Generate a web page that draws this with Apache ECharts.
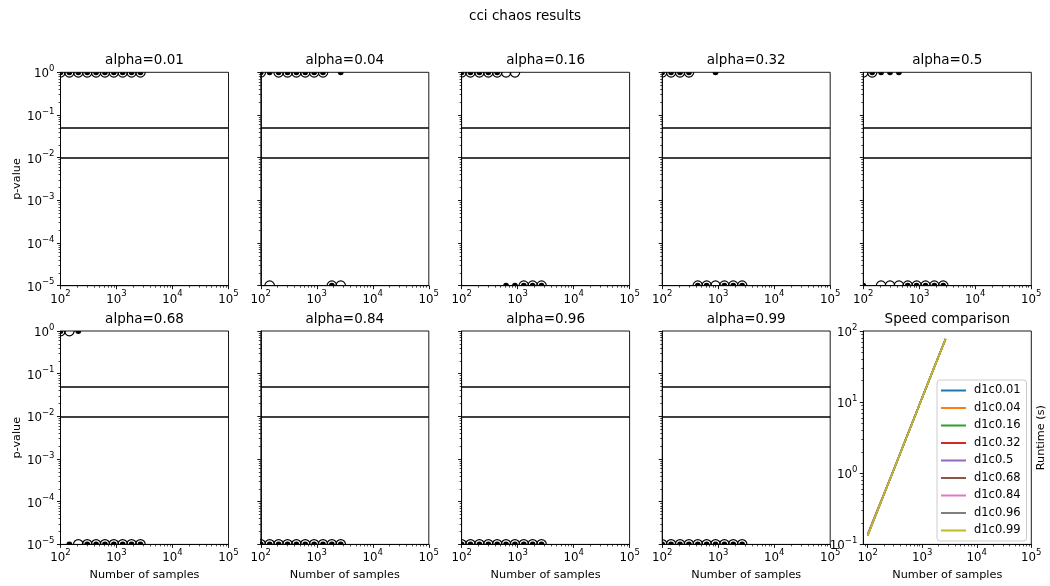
<!DOCTYPE html>
<html><head><meta charset="utf-8">
<script src="https://cdn.jsdelivr.net/npm/echarts@6/dist/echarts.min.js"></script>
<style>html,body{margin:0;padding:0;background:#fff}#c{width:1050px;height:586px}</style>
</head><body><div id="c"></div>
<script>
// ---------------- data ----------------
const samples = [100, 144, 208, 300, 432, 622, 896, 1290, 1858, 2676];
const alphaLabels = ['0.01', '0.04', '0.16', '0.32', '0.5', '0.68', '0.84', '0.96', '0.99'];
const thresholds = [0.05, 0.01];
const xMajorTicks = [100, 1000, 10000, 100000];
const pMajorTicks = [1e-5, 1e-4, 1e-3, 1e-2, 1e-1, 1];
const rtMajorTicks = [0.1, 1, 10, 100];

// open circles (p-value of method A), small dots (method B)
const open_001 = [1, 1, 1, 1, 1, 1, 1, 1, 1, 1];
const dot_001  = [1, 1, 1, 1, 1, 1, 1, 1, 1, 1];
const open_004 = [1, 1e-5, 1, 1, 1, 1, 1, 1, 1e-5, 1e-5];
const dot_004  = [1, 1, 1, 1, 1, 1, 1, 1, 1e-5, 1];
const open_016 = [1, 1, 1, 1, 1, 1, 1, 1e-5, 1e-5, 1e-5];
const dot_016  = [1, 1, 1, 1, 1, 1e-5, 1e-5, 1e-5, 1e-5, 1e-5];
const open_032 = [1, 1, 1, 1, 1e-5, 1e-5, 1e-5, 1e-5, 1e-5, 1e-5];
const dot_032  = [1, 1, 1, 1, 1e-5, 1e-5, 1, 1e-5, 1e-5, 1e-5];
const open_050 = [1, 1, 1e-5, 1e-5, 1e-5, 1e-5, 1e-5, 1e-5, 1e-5, 1e-5];
const dot_050  = [1e-5, 1, 1, 1, 1, 1e-5, 1e-5, 1e-5, 1e-5, 1e-5];
const open_068 = [1, 1, 1e-5, 1e-5, 1e-5, 1e-5, 1e-5, 1e-5, 1e-5, 1e-5];
const dot_068  = [1, 1e-5, 1, 1e-5, 1e-5, 1e-5, 1e-5, 1e-5, 1e-5, 1e-5];
const open_084 = [1e-5, 1e-5, 1e-5, 1e-5, 1e-5, 1e-5, 1e-5, 1e-5, 1e-5, 1e-5];
const dot_084  = [1e-5, 1e-5, 1e-5, 1e-5, 1e-5, 1e-5, 1e-5, 1e-5, 1e-5, 1e-5];
const open_096 = [1e-5, 1e-5, 1e-5, 1e-5, 1e-5, 1e-5, 1e-5, 1e-5, 1e-5, 1e-5];
const dot_096  = [1e-5, 1e-5, 1e-5, 1e-5, 1e-5, 1e-5, 1e-5, 1e-5, 1e-5, 1e-5];
const open_099 = [1e-5, 1e-5, 1e-5, 1e-5, 1e-5, 1e-5, 1e-5, 1e-5, 1e-5, 1e-5];
const dot_099  = [1e-5, 1e-5, 1e-5, 1e-5, 1e-5, 1e-5, 1e-5, 1e-5, 1e-5, 1e-5];

// runtime (s)
const rt_001 = [0.135, 0.27, 0.55, 1.12, 2.28, 4.6, 9.4, 19.0, 38.5, 77];
const rt_004 = [0.133, 0.275, 0.56, 1.13, 2.26, 4.62, 9.35, 19.1, 38.2, 76.5];
const rt_016 = [0.134, 0.272, 0.555, 1.11, 2.27, 4.58, 9.38, 18.9, 38.4, 77.2];
const rt_032 = [0.14, 0.28, 0.56, 1.12, 2.29, 4.61, 9.42, 19.05, 38.6, 77.5];
const rt_050 = [0.136, 0.27, 0.552, 1.125, 2.27, 4.6, 9.36, 18.95, 38.3, 76.8];
const rt_068 = [0.138, 0.278, 0.558, 1.118, 2.28, 4.63, 9.4, 19.1, 38.5, 77.1];
const rt_084 = [0.139, 0.282, 0.56, 1.13, 2.29, 4.62, 9.41, 19.0, 38.6, 77.3];
const rt_096 = [0.134, 0.271, 0.553, 1.12, 2.27, 4.6, 9.37, 18.98, 38.4, 77.0];
const rt_099 = [0.133, 0.27, 0.552, 1.118, 2.27, 4.59, 9.36, 18.97, 38.3, 76.9];

const openSets = [open_001, open_004, open_016, open_032, open_050, open_068, open_084, open_096, open_099];
const dotSets = [dot_001, dot_004, dot_016, dot_032, dot_050, dot_068, dot_084, dot_096, dot_099];
const rtSets = [rt_001, rt_004, rt_016, rt_032, rt_050, rt_068, rt_084, rt_096, rt_099];
const colors = ['#1f77b4', '#ff7f0e', '#2ca02c', '#d62728', '#9467bd', '#8c564b', '#e377c2', '#7f7f7f', '#bcbd22'];

// ---------------- layout ----------------
const FONT = 'DejaVu Sans';
const lefts = [60.5, 260.8, 461.6, 662.2, 863.3];
const tops = [72.3, 331];
const W = 168, H = 213.4;

function minorVals(lo, hi) {
  const out = [];
  for (let e = lo; e < hi; e++) for (let k = 2; k <= 9; k++) out.push(k * Math.pow(10, e));
  return out;
}
function fmt(v) {
  const e = Math.round(Math.log10(v));
  return '{b|10}{s|' + (e < 0 ? '\u2212' + (-e) : e) + '}';
}
const rich = {
  b: { fontSize: 11.8, fontFamily: FONT, color: '#000', verticalAlign: 'bottom', lineHeight: 16 },
  s: { fontSize: 8.5, fontFamily: FONT, color: '#000', verticalAlign: 'top', lineHeight: 9 }
};

const grids = [], xAxes = [], yAxes = [], series = [], graphics = [];

for (let g = 0; g < 10; g++) {
  const row = g < 5 ? 0 : 1, col = g % 5;
  grids.push({ left: lefts[col], top: tops[row], width: W, height: H, show: true,
    borderColor: '#000', borderWidth: 0.9, backgroundColor: 'transparent', outerBoundsMode: 'none' });
}
const isSpeed = g => g === 9;
// main axes
for (let g = 0; g < 10; g++) {
  const row = g < 5 ? 0 : 1, col = g % 5;
  const xmin = isSpeed(g) ? 83 : 100;
  xAxes.push({
    type: 'log', logBase: 10, gridIndex: g, min: xmin, max: 100000, position: 'bottom',
    axisLine: { show: true, lineStyle: { color: '#000', width: 0.9 } },
    axisTick: { show: true, length: 3.5, lineStyle: { color: '#000', width: 0.9 }, customValues: xMajorTicks },
    axisLabel: { show: true, margin: 4, formatter: fmt, rich: rich, customValues: xMajorTicks },
    splitLine: { show: false },
    name: row === 1 ? 'Number of samples' : '', nameLocation: 'middle', nameGap: 25,
    nameTextStyle: { fontSize: 11.25, fontFamily: FONT, color: '#000' }
  });
  const ymin = isSpeed(g) ? 0.1 : 1e-5, ymax = isSpeed(g) ? 100 : 1;
  const yt = isSpeed(g) ? rtMajorTicks : pMajorTicks;
  yAxes.push({
    type: 'log', logBase: 10, gridIndex: g, min: ymin, max: ymax, position: 'left',
    axisLine: { show: true, lineStyle: { color: '#000', width: 0.9 } },
    axisTick: { show: true, length: 3.5, lineStyle: { color: '#000', width: 0.9 }, customValues: yt },
    axisLabel: { show: col === 0 || isSpeed(g), margin: 6, formatter: fmt, rich: rich, customValues: yt },
    splitLine: { show: false },
    name: (col === 0) ? 'p-value' : '', nameLocation: 'middle', nameRotate: 90, nameGap: 38,
    nameTextStyle: { fontSize: 11.25, fontFamily: FONT, color: '#000' }
  });
}
// minor tick axes
for (let g = 0; g < 10; g++) {
  const xmin = isSpeed(g) ? 83 : 100;
  xAxes.push({
    type: 'log', logBase: 10, gridIndex: g, min: xmin, max: 100000, position: 'bottom',
    axisLine: { show: false }, axisLabel: { show: false }, splitLine: { show: false },
    axisTick: { show: true, length: 2, lineStyle: { color: '#000', width: 0.7 }, customValues: minorVals(isSpeed(g) ? 1 : 2, 5).filter(v => v >= xmin) }
  });
  const ymin = isSpeed(g) ? 0.1 : 1e-5, ymax = isSpeed(g) ? 100 : 1;
  yAxes.push({
    type: 'log', logBase: 10, gridIndex: g, min: ymin, max: ymax, position: 'left',
    axisLine: { show: false }, axisLabel: { show: false }, splitLine: { show: false },
    axisTick: { show: true, length: 2, lineStyle: { color: '#000', width: 0.7 }, customValues: isSpeed(g) ? minorVals(-1, 2) : minorVals(-5, 0) }
  });
}
// right-hand label axis for speed panel
yAxes.push({
  type: 'log', logBase: 10, gridIndex: 9, min: 0.1, max: 100, position: 'right',
  axisLine: { show: false }, axisLabel: { show: false }, axisTick: { show: false }, splitLine: { show: false },
  name: 'Runtime (s)', nameLocation: 'middle', nameRotate: 90, nameGap: 4,
  nameTextStyle: { fontSize: 11.25, fontFamily: FONT, color: '#000' }
});

function markerSeries(g, ys, kind) {
  return {
    type: 'custom', xAxisIndex: g, yAxisIndex: g, clip: true, silent: true,
    z: kind === 'open' ? 3 : 5,
    data: samples.map((x, i) => [x, ys[i]]),
    renderItem: (params, api) => {
      const p = api.coord([api.value(0), api.value(1)]);
      if (kind === 'open') {
        return { type: 'circle', shape: { cx: p[0], cy: p[1], r: 4.8 }, style: { fill: 'rgba(0,0,0,0)', stroke: '#000', lineWidth: 1.2 } };
      }
      return { type: 'circle', shape: { cx: p[0], cy: p[1], r: 2.9 }, style: { fill: '#000', stroke: null } };
    }
  };
}

for (let g = 0; g < 9; g++) {
  series.push({
    type: 'line', xAxisIndex: g, yAxisIndex: g, data: [], silent: true,
    markLine: { silent: true, symbol: 'none', animation: false, label: { show: false },
      lineStyle: { color: '#000', width: 1.7, type: 'solid' },
      data: thresholds.map(t => ({ yAxis: t })) }
  });
  series.push(markerSeries(g, openSets[g], 'open'));
  series.push(markerSeries(g, dotSets[g], 'dot'));
}
for (let i = 0; i < 9; i++) {
  series.push({
    type: 'line', name: 'd1c' + alphaLabels[i], xAxisIndex: 9, yAxisIndex: 9,
    data: samples.map((x, k) => [x, rtSets[i][k]]),
    symbol: 'none', showSymbol: false, clip: true,
    lineStyle: { width: 1.6, color: colors[i] }, itemStyle: { color: colors[i] }
  });
}

// titles
graphics.push({ type: 'text', x: 525, y: 16.5, style: { text: 'cci chaos results', font: '13.5px "DejaVu Sans"', fill: '#000', align: 'center', verticalAlign: 'middle' } });
for (let g = 0; g < 10; g++) {
  const row = g < 5 ? 0 : 1, col = g % 5;
  const t = g < 9 ? 'alpha=' + alphaLabels[g] : 'Speed comparison';
  graphics.push({ type: 'text', x: lefts[col] + W / 2, y: tops[row] - 12, style: { text: t, font: '13.5px "DejaVu Sans"', fill: '#000', align: 'center', verticalAlign: 'middle' } });
}

const chart = echarts.init(document.getElementById('c'), null, { renderer: 'canvas' });
chart.setOption({
  animation: false,
  backgroundColor: '#fff',
  textStyle: { fontFamily: FONT },
  grid: grids, xAxis: xAxes, yAxis: yAxes, series: series,
  graphic: graphics,
  legend: {
    orient: 'vertical', left: 937, top: 380,
    data: alphaLabels.map(a => ({ name: 'd1c' + a, icon: 'rect' })),
    itemWidth: 25, itemHeight: 2, itemGap: 4.5,
    padding: [4, 6, 4, 4],
    backgroundColor: 'rgba(255,255,255,0.8)', borderColor: '#cccccc', borderWidth: 1, borderRadius: 3,
    textStyle: { fontSize: 11.5, fontFamily: FONT, color: '#000', lineHeight: 13, padding: [0, 0, 0, 3] },
    selectedMode: false
  }
});
</script></body></html>
